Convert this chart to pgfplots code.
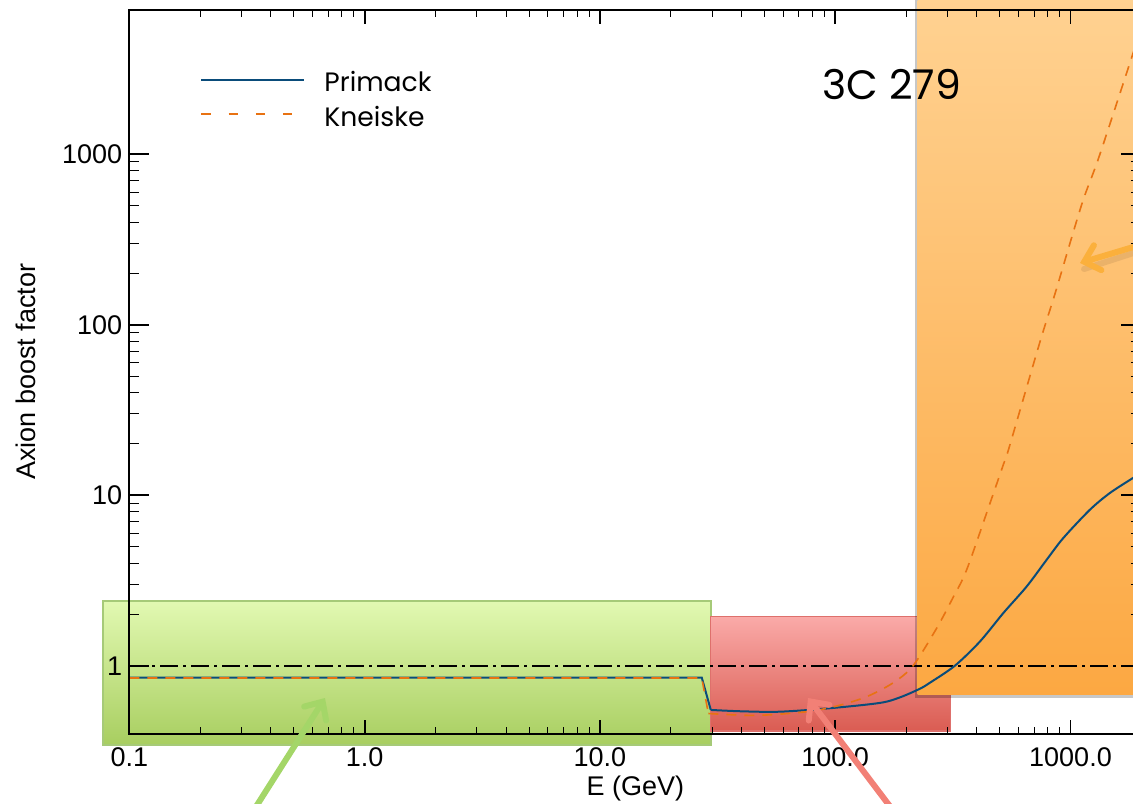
\documentclass[border=0pt]{standalone}
\usepackage{pgfplots}
\pgfplotsset{compat=1.18}
\usepackage{fontspec}
\setmainfont{Liberation Sans}
\newfontfamily\poppins{Poppins}
\usetikzlibrary{arrows.meta,shadows}
\definecolor{primack}{RGB}{10,76,122}
\definecolor{kneiske}{RGB}{232,114,18}
\definecolor{greenTop}{RGB}{226,249,178}
\definecolor{greenBot}{RGB}{168,206,96}
\definecolor{greenEdge}{RGB}{166,202,120}
\definecolor{redTop}{RGB}{250,170,168}
\definecolor{redBot}{RGB}{218,92,82}
\definecolor{redEdge}{RGB}{222,112,108}
\definecolor{orangeTop}{RGB}{255,210,146}
\definecolor{orangeBot}{RGB}{252,168,66}
\definecolor{greenArrow}{RGB}{164,214,104}
\definecolor{redArrow}{RGB}{242,128,118}
\definecolor{orangeArrow}{RGB}{251,176,60}

\pgfplotstableread{
x y
0.1 0.854
27.1 0.854
29.6 0.552
}\primackflat
\pgfplotstableread{
x y
29.6 0.552
40 0.542
58 0.539
95 0.565
155 0.607
189 0.655
229 0.735
253 0.798
323 1.004
412 1.389
518 2.04
651 2.92
792 4.19
932 5.62
1210 8.24
1472 10.33
1843 12.64
2000 13.6
}\primackrise
\pgfplotstableread{
x y
0.1 0.850
27.1 0.850
28.9 0.526
}\kneiskeflat
\pgfplotstableread{
x y
28.9 0.526
46.4 0.513
75.7 0.539
101.5 0.582
136 0.66
176 0.795
214 1.0
270 1.665
316 2.5
362 3.66
455 9.0
518 15.1
545 18.5
741 79
863 155
1117 509
1334 1000
2000 5500
}\kneiskerise

\begin{document}
\begin{tikzpicture}
\begin{axis}[
  at={(64.65pt,-5pt)}, anchor=north west,
  scale only axis, width=506pt, height=361.9pt,
  xmode=log, ymode=log,
  xmin=0.1, xmax=2000, ymin=0.4, ymax=7000,
  clip=false, axis on top,
  xtick={0.1,1,10,100,1000}, xticklabels={0.1,1.0,10.0,100.0,1000.0},
  ytick={1,10,100,1000}, yticklabels={1,10,100,1000},
  tick label style={font=\fontsize{13.5}{16}\selectfont},
  xticklabel style={yshift=-3.5pt},
  axis line style={line width=1pt},
  major tick style={line width=0.9pt, black},
  minor tick style={line width=0.5pt, black},
  xtick style={/pgfplots/major tick length=7pt,/pgfplots/minor tick length=3.5pt},
  ytick style={/pgfplots/major tick length=10pt,/pgfplots/minor tick length=5pt},
  xlabel={E (GeV)}, ylabel={Axion boost factor},
  every axis x label/.style={at={(axis description cs:0.5,-0.0857)}, anchor=base,
    font=\fontsize{13.5}{16}\selectfont},
  every axis y label/.style={at={(axis description cs:-0.0929,0.5)}, rotate=90, anchor=base,
    font=\fontsize{13.5}{16}\selectfont},
  legend style={draw=none, fill=none, at={(axis description cs:0.0699,0.921)}, anchor=north west,
    font=\poppins\fontsize{13.3}{16}\selectfont, row sep=1.5pt, column sep=7.5pt, inner sep=0pt,
    cells={anchor=west}},
  legend image code/.code={\draw[#1] (0pt,1.5pt) -- (51.5pt,1.5pt);},
]
% highlighted energy ranges
\fill[top color=greenTop, bottom color=greenBot, draw=greenEdge, line width=0.8pt]
  (axis cs:0.0773,2.41) rectangle (axis cs:29.6,0.344);
\fill[top color=redTop, bottom color=redBot, draw=redEdge, line width=0.6pt]
  (axis cs:29.6,1.94) rectangle (axis cs:310,0.415);
\fill[top color=orangeTop, bottom color=orangeBot,
  drop shadow={shadow xshift=-1.5pt, shadow yshift=-1.5pt, fill=black, opacity=0.22}]
  (axis cs:224,8700) rectangle (axis cs:3000,0.676);

\addlegendimage{color=primack, line width=1pt}
\addlegendentry{Primack}
\addlegendimage{color=kneiske, line width=1pt, dash pattern=on 4.6pt off 9pt}
\addlegendentry{Kneiske}

\addplot[forget plot, black, line width=0.6pt, dash pattern=on 9pt off 2.5pt on 1.5pt off 2.5pt]
  coordinates {(0.1,1) (2000,1)};
\addplot[forget plot, color=primack, line width=1pt] table {\primackflat};
\addplot[forget plot, color=primack, line width=1pt, smooth] table {\primackrise};
\addplot[forget plot, color=kneiske, line width=0.8pt, dash pattern=on 5pt off 4pt] table {\kneiskeflat};
\addplot[forget plot, color=kneiske, line width=0.8pt, dash pattern=on 5pt off 4pt, smooth] table {\kneiskerise};
\end{axis}
\pgfresetboundingbox
\path[use as bounding box] (0,0) rectangle (566.5pt,-401.5pt);
\begin{scope}[x=0.5pt,y=-0.5pt]
\node[anchor=base west, inner sep=0pt, font=\poppins\fontsize{20.5}{24}\selectfont] at (822,99) {3C 279};
% arrows
\draw[line width=3pt, black, opacity=0.08, line cap=round] (1152,247) -- (1084,269);
\draw[line width=3pt, greenArrow, line cap=round, -{Straight Barb[length=7pt,width=13pt,line cap=round]}] (252,813) -- (325,698);
\draw[line width=3pt, redArrow, line cap=round, -{Straight Barb[length=7pt,width=13pt,line cap=round]}] (895,813) -- (808,698);
\draw[line width=3pt, orangeArrow, line cap=round, -{Straight Barb[length=7pt,width=13pt,line cap=round]}] (1150,242) -- (1080,263);
\end{scope}
\end{tikzpicture}
\end{document}
